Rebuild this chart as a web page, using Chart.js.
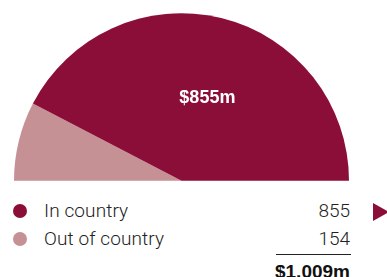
<!DOCTYPE html>
<html>
<head>
<meta charset="utf-8">
<script src="https://cdn.jsdelivr.net/npm/chart.js@4"></script>
<style>
  html, body { margin: 0; padding: 0; background: #fff; width: 387px; height: 277px; overflow: hidden; }
  #wrap { position: absolute; left: 14px; top: 13px; width: 335px; height: 168px; }
  .dot { position: absolute; width: 14px; height: 14px; border-radius: 50%; }
  .lbl { position: absolute; font-family: Roboto, "Liberation Sans", sans-serif; font-weight: 300; font-size: 19px; color: #222; white-space: nowrap; line-height: 19px; letter-spacing: 0.1px; }
  .val { position: absolute; right: 37px; font-family: Roboto, "Liberation Sans", sans-serif; font-weight: 300; font-size: 19px; color: #222; line-height: 19px; text-align: right; }
  #rule { position: absolute; left: 276px; width: 75px; top: 254px; height: 1px; background: #222; }
  #total { position: absolute; right: 37px; top: 262px; font-family: "Liberation Sans", Arial, sans-serif; font-weight: bold; font-size: 19px; line-height: 19px; color: #111; }
  #arrow { position: absolute; left: 373px; top: 203px; width: 0; height: 0; border-top: 9.5px solid transparent; border-bottom: 9.5px solid transparent; border-left: 16px solid #8B0E39; }
</style>
</head>
<body>
<div id="wrap"><canvas id="c"></canvas></div>
<div id="legend"></div>
<div id="rule"></div>
<div id="total"></div>
<div id="arrow"></div>
<script>
const categories = ["In country", "Out of country"];
const values = [855, 154];
const centerLabel = "$855m";
const totalLabel = "$1,009m";

const palette = ["#8B0E39", "#C69195"];

// Chart order: the slice on the left comes first (drawn clockwise from the left)
const chartLabels = categories.slice().reverse();
const chartValues = values.slice().reverse();
const chartColors = palette.slice().reverse();

const labelPlugin = {
  id: 'sliceLabel',
  afterDatasetsDraw(chart) {
    const meta = chart.getDatasetMeta(0);
    const arc = meta.data[chartLabels.indexOf("In country")];
    const p = arc.tooltipPosition();
    const ctx = chart.ctx;
    ctx.save();
    ctx.fillStyle = '#ffffff';
    ctx.font = 'bold 18px "Liberation Sans", Arial, sans-serif';
    ctx.textAlign = 'center';
    ctx.textBaseline = 'middle';
    ctx.fillText(centerLabel, p.x + 6, p.y - 1);
    ctx.restore();
  }
};

new Chart(document.getElementById('c'), {
  type: 'pie',
  data: {
    labels: chartLabels,
    datasets: [{
      data: chartValues,
      backgroundColor: chartColors,
      borderWidth: 0
    }]
  },
  options: {
    responsive: true,
    maintainAspectRatio: false,
    animation: false,
    rotation: -90,
    circumference: 180,
    layout: { padding: 0 },
    plugins: { legend: { display: false }, tooltip: { enabled: false } }
  },
  plugins: [labelPlugin]
});

// Legend rows
const legend = document.getElementById('legend');
const rowTops = [211, 239];
categories.forEach((name, i) => {
  const y = rowTops[i];
  const d = document.createElement('div');
  d.className = 'dot';
  d.style.left = '13px';
  d.style.top = (y - 7) + 'px';
  d.style.background = palette[i];
  legend.appendChild(d);
  const l = document.createElement('div');
  l.className = 'lbl';
  l.style.left = '44px';
  l.style.top = (y - 10) + 'px';
  l.textContent = name;
  legend.appendChild(l);
  const v = document.createElement('div');
  v.className = 'val';
  v.style.top = (y - 10) + 'px';
  v.textContent = values[i];
  legend.appendChild(v);
});
document.getElementById('total').textContent = totalLabel;
</script>
</body>
</html>
